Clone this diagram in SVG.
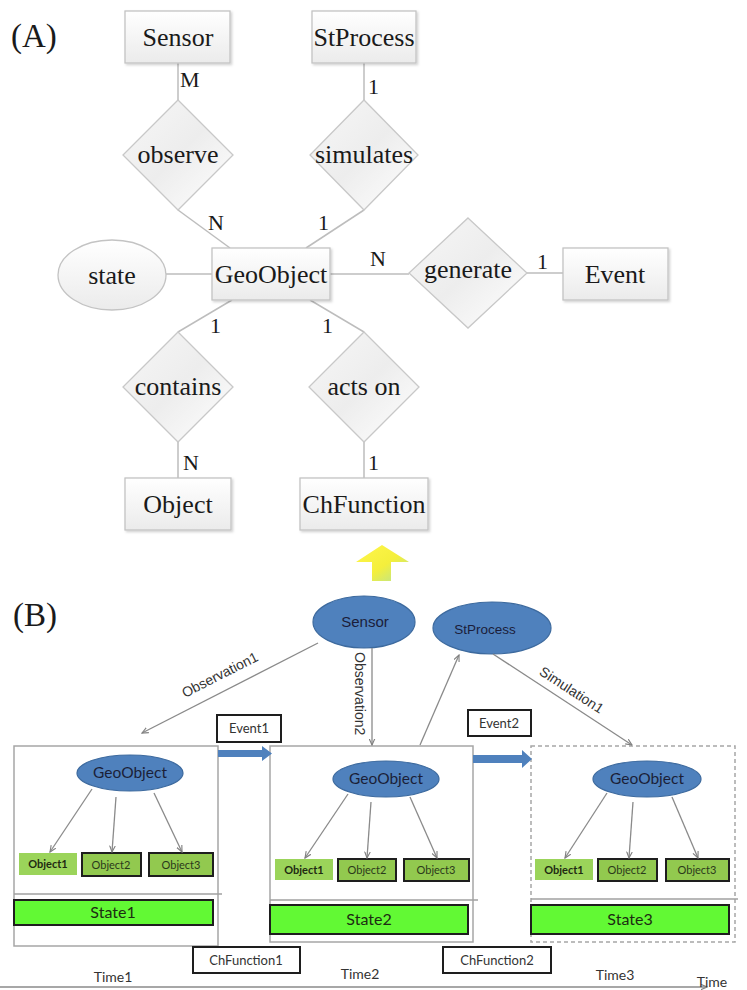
<svg xmlns="http://www.w3.org/2000/svg" width="747" height="990" viewBox="0 0 747 990">
<defs>
<linearGradient id="boxg" x1="0" y1="0" x2="0" y2="1"><stop offset="0" stop-color="#ffffff"/><stop offset="1" stop-color="#ebebeb"/></linearGradient>
<linearGradient id="diag" x1="0" y1="0" x2="1" y2="1"><stop offset="0" stop-color="#f7f7f7"/><stop offset="0.5" stop-color="#ededed"/><stop offset="1" stop-color="#ffffff"/></linearGradient>
<linearGradient id="yel" x1="0" y1="0" x2="1" y2="1"><stop offset="0" stop-color="#fff64a"/><stop offset="0.55" stop-color="#f4ef3c"/><stop offset="0.8" stop-color="#cfe872"/><stop offset="1" stop-color="#f2f25a"/></linearGradient>
<filter id="sh" x="-10%" y="-10%" width="130%" height="130%"><feDropShadow dx="1.5" dy="1.5" stdDeviation="1" flood-color="#000" flood-opacity="0.18"/></filter>
<marker id="ah" viewBox="0 0 10 10" refX="9" refY="5" markerWidth="7" markerHeight="7" orient="auto" markerUnits="userSpaceOnUse"><path d="M0,1 L9,5 L0,9" fill="none" stroke="#808080" stroke-width="1.6"/></marker>
<style>
.er{fill:url(#boxg);stroke:#c3c3c3;stroke-width:1.3;filter:url(#sh)}
.dm{fill:url(#diag);stroke:#c8c8c8;stroke-width:1.3}
.el{fill:url(#boxg);stroke:#c3c3c3;stroke-width:1.3}
.cn{stroke:#bdbdbd;stroke-width:1.5;fill:none}
.ta{font-family:"Liberation Serif","Times New Roman",serif;font-size:26px;fill:#1a1a1a;text-anchor:middle}
.lb{font-family:"Liberation Serif","Times New Roman",serif;font-size:22px;fill:#1a1a1a}
.hd{font-family:"Liberation Serif","Times New Roman",serif;font-size:33px;fill:#1a1a1a}
.be{fill:#4f81bd;stroke:#3d6a9e;stroke-width:1.2}
.bt{font-family:"Liberation Sans",Arial,sans-serif;fill:#1b1d3a;text-anchor:middle}
.gt{font-family:Lato,"Open Sans",sans-serif;font-size:15.5px;fill:#1b1f38;text-anchor:middle}
.gl{stroke:#8a8a8a;stroke-width:1.3;fill:none}
.lab{font-family:"Liberation Sans",Arial,sans-serif;font-size:14px;fill:#333}
.frm{fill:#fff;stroke:#a6a6a6;stroke-width:1.5}
.sep{stroke:#a0a0a0;stroke-width:1.5}
.o1{fill:#9bd45a}
.o2{fill:#92c94f;stroke:#1e1e1e;stroke-width:2}
.ot{font-family:Lato,"Open Sans",sans-serif;font-size:11px;fill:#2b3a1b;text-anchor:middle}
.ob{font-weight:bold;fill:#1f2a12}
.st{fill:#62f934;stroke:#1e1e1e;stroke-width:2}
.stt{font-family:Lato,"Open Sans",sans-serif;font-size:16px;fill:#1d2c12;text-anchor:middle}
.kb{fill:#fff;stroke:#1e1e1e;stroke-width:2}
.kt{font-family:Lato,"Open Sans",sans-serif;font-size:13px;fill:#333;text-anchor:middle}
.tt{font-family:Lato,"Open Sans",sans-serif;font-size:14px;fill:#333;text-anchor:middle}
.ba{fill:#4f81bd}
</style>
</defs>

<text class="hd" x="11" y="47">(A)</text>

<g id="connectorsA">
<line class="cn" x1="178" y1="63" x2="178" y2="100"/>
<line class="cn" x1="364" y1="63" x2="364" y2="100"/>
<line class="cn" x1="178" y1="210" x2="230" y2="248"/>
<line class="cn" x1="364" y1="210" x2="306" y2="248"/>
<line class="cn" x1="166" y1="274" x2="212" y2="274"/>
<line class="cn" x1="330" y1="274" x2="409" y2="274"/>
<line class="cn" x1="527" y1="273" x2="563" y2="273"/>
<line class="cn" x1="232" y1="300" x2="178" y2="332"/>
<line class="cn" x1="310" y1="300" x2="364" y2="332"/>
<line class="cn" x1="178" y1="442" x2="178" y2="478"/>
<line class="cn" x1="364" y1="442" x2="364" y2="478"/>
<text class="lb" x="180" y="87">M</text>
<text class="lb" x="368" y="94">1</text>
<text class="lb" x="208" y="230">N</text>
<text class="lb" x="318" y="230">1</text>
<text class="lb" x="370" y="266">N</text>
<text class="lb" x="537" y="269">1</text>
<text class="lb" x="210" y="333">1</text>
<text class="lb" x="322" y="333">1</text>
<text class="lb" x="183" y="470">N</text>
<text class="lb" x="368" y="470">1</text>
</g>

<g id="Sensor"><rect class="er" x="125" y="11" width="105" height="52"/><text class="ta" x="178" y="46">Sensor</text></g>
<g id="StProcess"><rect class="er" x="312" y="11" width="104" height="52"/><text class="ta" x="364" y="46">StProcess</text></g>
<g id="observe"><polygon class="dm" points="178,100 233,155 178,210 123,155"/><text class="ta" x="178" y="163">observe</text></g>
<g id="simulates"><polygon class="dm" points="364,100 418,155 364,210 310,155"/><text class="ta" x="364" y="163">simulates</text></g>
<g id="state"><ellipse class="el" cx="112" cy="275" rx="54" ry="35"/><text class="ta" x="112" y="284">state</text></g>
<g id="GeoObject"><rect class="er" x="212" y="248" width="118" height="52"/><text class="ta" x="271" y="283">GeoObject</text></g>
<g id="generate"><polygon class="dm" points="468,218 527,273 468,328 409,273"/><text class="ta" x="468" y="278">generate</text></g>
<g id="Event"><rect class="er" x="563" y="248" width="105" height="52"/><text class="ta" x="615" y="283">Event</text></g>
<g id="contains"><polygon class="dm" points="178,332 233,387 178,442 123,387"/><text class="ta" x="178" y="395">contains</text></g>
<g id="actson"><polygon class="dm" points="364,332 419,387 364,442 309,387"/><text class="ta" x="364" y="395">acts on</text></g>
<g id="Object"><rect class="er" x="125" y="478" width="106" height="52"/><text class="ta" x="178" y="513">Object</text></g>
<g id="ChFunction"><rect class="er" x="300" y="478" width="128" height="52"/><text class="ta" x="364" y="513">ChFunction</text></g>

<g id="yellowArrow"><polygon points="382,545 409,562 391,562 391,581 372,581 372,562 356,562" fill="url(#yel)"/></g>

<text class="hd" x="13" y="626">(B)</text>

<g id="frame1">
<rect class="frm" x="14" y="746" width="204" height="200"/>
<line class="sep" x1="14" y1="894" x2="222" y2="894"/>
<ellipse class="be" cx="130" cy="773" rx="53" ry="18"/><text class="gt" x="130" y="778">GeoObject</text>
<rect class="o1" x="19" y="853" width="58" height="22"/><text class="ot ob" x="48" y="868">Object1</text>
<rect class="o2" x="82" y="853" width="59" height="23"/><text class="ot" x="111" y="869">Object2</text>
<rect class="o2" x="149" y="853" width="64" height="23"/><text class="ot" x="181" y="869">Object3</text>
<rect class="st" x="14" y="900" width="199" height="25"/><text class="stt" x="113" y="918">State1</text>
</g>
<g id="frame2">
<rect class="frm" x="270" y="746" width="203" height="196"/>
<line class="sep" x1="270" y1="900" x2="478" y2="900"/>
<ellipse class="be" cx="386" cy="779" rx="53" ry="18"/><text class="gt" x="386" y="784">GeoObject</text>
<rect class="o1" x="275" y="859" width="58" height="21"/><text class="ot ob" x="304" y="874">Object1</text>
<rect class="o2" x="338" y="859" width="58" height="22"/><text class="ot" x="367" y="874">Object2</text>
<rect class="o2" x="404" y="859" width="65" height="22"/><text class="ot" x="436" y="874">Object3</text>
<rect class="st" x="270" y="905" width="198" height="29"/><text class="stt" x="369" y="925">State2</text>
</g>
<g id="frame3">
<rect class="frm" x="531" y="746" width="204" height="196" stroke-dasharray="4,3"/>
<line class="sep" x1="531" y1="899" x2="738" y2="899"/>
<ellipse class="be" cx="647" cy="779" rx="54" ry="18"/><text class="gt" x="647" y="784">GeoObject</text>
<rect class="o1" x="535" y="859" width="58" height="21"/><text class="ot ob" x="564" y="874">Object1</text>
<rect class="o2" x="598" y="859" width="59" height="22"/><text class="ot" x="627" y="874">Object2</text>
<rect class="o2" x="666" y="859" width="63" height="22"/><text class="ot" x="697" y="874">Object3</text>
<rect class="st" x="531" y="905" width="198" height="29"/><text class="stt" x="630" y="925">State3</text>
</g>

<g id="SensorB"><ellipse class="be" cx="364" cy="622" rx="51" ry="26"/><text class="bt" x="365" y="627" font-size="15">Sensor</text></g>
<g id="StProcessB"><ellipse class="be" cx="492" cy="628" rx="59" ry="26"/><text class="bt" x="485" y="634" font-size="13.5">StProcess</text></g>

<g id="Event1"><rect class="kb" x="217" y="715" width="64" height="27"/><text class="kt" x="249" y="733">Event1</text></g>
<g id="Event2"><rect class="kb" x="468" y="710" width="63" height="26"/><text class="kt" x="499" y="728">Event2</text></g>
<g id="ChFunction1"><rect class="kb" x="193" y="947" width="107" height="26"/><text class="kt" x="246" y="965">ChFunction1</text></g>
<g id="ChFunction2"><rect class="kb" x="443" y="947" width="108" height="26"/><text class="kt" x="497" y="965">ChFunction2</text></g>

<g id="connectorsB">
<line class="gl" x1="318" y1="643" x2="142" y2="733" marker-end="url(#ah)"/>
<line class="gl" x1="372" y1="648" x2="372" y2="745" marker-end="url(#ah)"/>
<line class="gl" x1="420" y1="745" x2="459" y2="655" marker-end="url(#ah)"/>
<line class="gl" x1="493" y1="654" x2="632" y2="745" marker-end="url(#ah)"/>
<text class="lab" transform="translate(222,679) rotate(-27)" text-anchor="middle">Observation1</text>
<text class="lab" transform="translate(355,652) rotate(90)">Observation2</text>
<text class="lab" transform="translate(569,694) rotate(33)" text-anchor="middle">Simulation1</text>
<line class="gl" x1="92" y1="789" x2="50" y2="852" marker-end="url(#ah)"/>
<line class="gl" x1="116" y1="797" x2="112" y2="852" marker-end="url(#ah)"/>
<line class="gl" x1="154" y1="793" x2="182" y2="852" marker-end="url(#ah)"/>
<line class="gl" x1="348" y1="794" x2="305" y2="858" marker-end="url(#ah)"/>
<line class="gl" x1="371" y1="802" x2="367" y2="858" marker-end="url(#ah)"/>
<line class="gl" x1="410" y1="797" x2="437" y2="858" marker-end="url(#ah)"/>
<line class="gl" x1="607" y1="793" x2="565" y2="858" marker-end="url(#ah)"/>
<line class="gl" x1="633" y1="802" x2="629" y2="858" marker-end="url(#ah)"/>
<line class="gl" x1="672" y1="797" x2="698" y2="858" marker-end="url(#ah)"/>
<polygon class="ba" points="218,750 262,750 262,746 272,753.5 262,761 262,757 218,757"/>
<polygon class="ba" points="473,755 522,755 522,750 532,759 522,768 522,763 473,763"/>
<line class="gl" x1="0" y1="987" x2="707" y2="987" marker-end="url(#ah)"/>
</g>

<text class="tt" x="113" y="982">Time1</text>
<text class="tt" x="360" y="979">Time2</text>
<text class="tt" x="615" y="980">Time3</text>
<text class="tt" x="712" y="987" text-anchor="start">Time</text>
</svg>
